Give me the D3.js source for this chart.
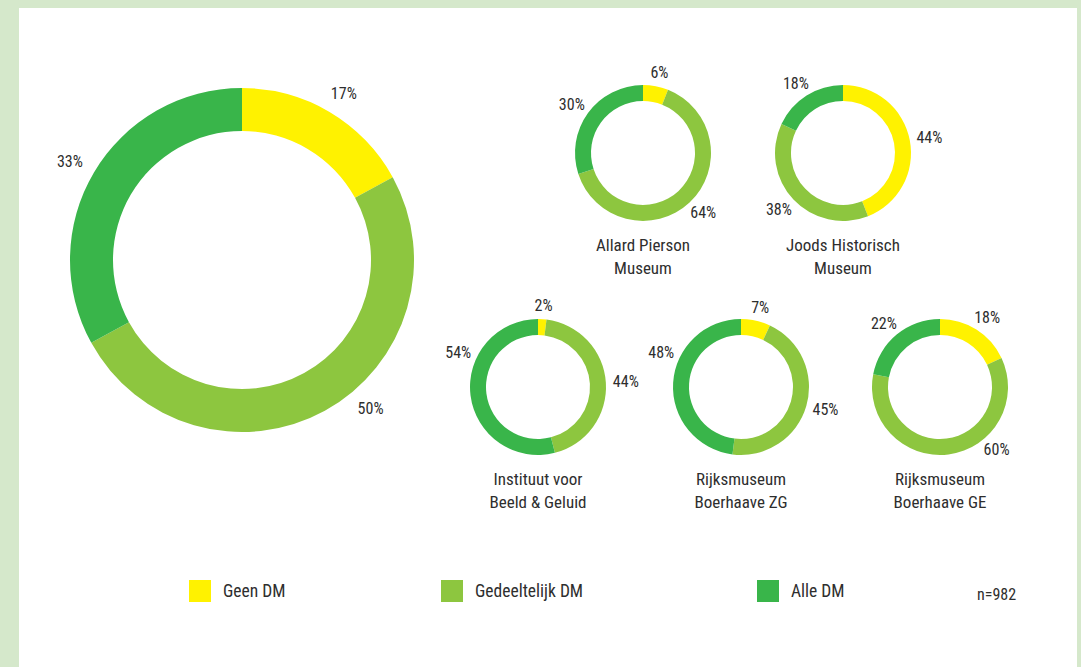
<!DOCTYPE html>
<html>
<head>
<meta charset="utf-8">
<script src="https://cdn.jsdelivr.net/npm/d3@7"></script>
<style>
  body { margin: 0; background: #d5e8cb; }
  text { font-family: "Liberation Sans Narrow", "Arial Narrow", "Roboto Condensed", sans-serif; fill: #2e2e2e; }
</style>
</head>
<body>
<script>
// categories + colours
const categories = ["Geen DM", "Gedeeltelijk DM", "Alle DM"]
const colors = ["#fff200", "#8dc63f", "#39b54a"]

// total (big donut)
const totalValues = [17, 50, 33]

// per museum
const museums = [
    ["Allard Pierson", "Museum"],
    ["Joods Historisch", "Museum"],
    ["Instituut voor", "Beeld & Geluid"],
    ["Rijksmuseum", "Boerhaave ZG"],
    ["Rijksmuseum", "Boerhaave GE"]
]
const geenDM = [6, 44, 2, 7, 18]
const gedeeltelijkDM = [64, 38, 44, 45, 60]
const alleDM = [30, 18, 54, 48, 22]

const nLabel = "n=982"

const width = 1081
const height = 667

const svg = d3.select("body").append("svg")
    .attr("width", width)
    .attr("height", height)

svg.append("rect")
    .attr("width", width).attr("height", height)
    .attr("fill", "#d5e8cb")

// white panel
svg.append("rect")
    .attr("x", 19).attr("y", 8)
    .attr("width", 1058).attr("height", height)
    .attr("fill", "#ffffff")

const color = d3.scaleOrdinal().domain(categories).range(colors)
const pie = d3.pie().sort(null).value(d => d.value)

const deg = Math.PI / 180
// keep labels out of the zone under the ring (names) and the left side (neighbour labels)
function labelAngle(d) {
    let a = (d.startAngle + d.endAngle) / 2
    if (a > 140 * deg && a <= 180 * deg) a = 140 * deg
    else if (a > 180 * deg && a < 220 * deg) a = 220 * deg
    else if (a > 240 * deg && a < 295 * deg) a = 295 * deg
    return a
}

function drawDonut(g, values, outer, inner, labelOffset, fontSize) {
    const data = values.map((v, i) => ({ cat: categories[i], value: v }))
    const arcs = pie(data)
    const arc = d3.arc().innerRadius(inner).outerRadius(outer)
    const r = outer + labelOffset

    g.selectAll("path")
        .data(arcs)
        .enter()
        .append("path")
        .attr("d", arc)
        .attr("fill", d => color(d.data.cat))

    g.selectAll("text.pct")
        .data(arcs)
        .enter()
        .append("text")
        .attr("class", "pct")
        .attr("x", d => Math.sin(labelAngle(d)) * (r + 6))
        .attr("y", d => -Math.cos(labelAngle(d)) * r)
        .attr("text-anchor", "middle")
        .attr("dy", "0.35em")
        .style("font-size", fontSize + "px")
        .text(d => d.data.value + "%")
}

// Big donut
const big = svg.append("g").attr("transform", "translate(242, 260)")
drawDonut(big, totalValues, 172, 129, 22, 16)

// Small donuts - layout: top row 2, bottom row 3
const centers = [[643, 153], [843, 153], [538, 387], [741, 387], [940, 387]]

museums.forEach((name, i) => {
    const g = svg.append("g").attr("transform", `translate(${centers[i][0]}, ${centers[i][1]})`)
    drawDonut(g, [geenDM[i], gedeeltelijkDM[i], alleDM[i]], 68, 52, 14, 16)

    g.selectAll("text.name")
        .data(name)
        .enter()
        .append("text")
        .attr("class", "name")
        .attr("text-anchor", "middle")
        .attr("y", (d, j) => 98 + j * 23)
        .style("font-size", "17px")
        .text(d => d)
})

// Legend
const legendX = d3.scaleOrdinal().domain(categories).range([189, 441, 757])
const legend = svg.append("g")
legend.selectAll("rect")
    .data(categories)
    .enter()
    .append("rect")
    .attr("x", d => legendX(d))
    .attr("y", 580)
    .attr("width", 22)
    .attr("height", 22)
    .attr("fill", d => color(d))

legend.selectAll("text")
    .data(categories)
    .enter()
    .append("text")
    .attr("x", d => legendX(d) + 34)
    .attr("y", 591)
    .attr("dy", "0.35em")
    .style("font-size", "17.5px")
    .text(d => d)

svg.append("text")
    .attr("x", 977)
    .attr("y", 594)
    .attr("dy", "0.35em")
    .style("font-size", "16px")
    .text(nLabel)
</script>
</body>
</html>
